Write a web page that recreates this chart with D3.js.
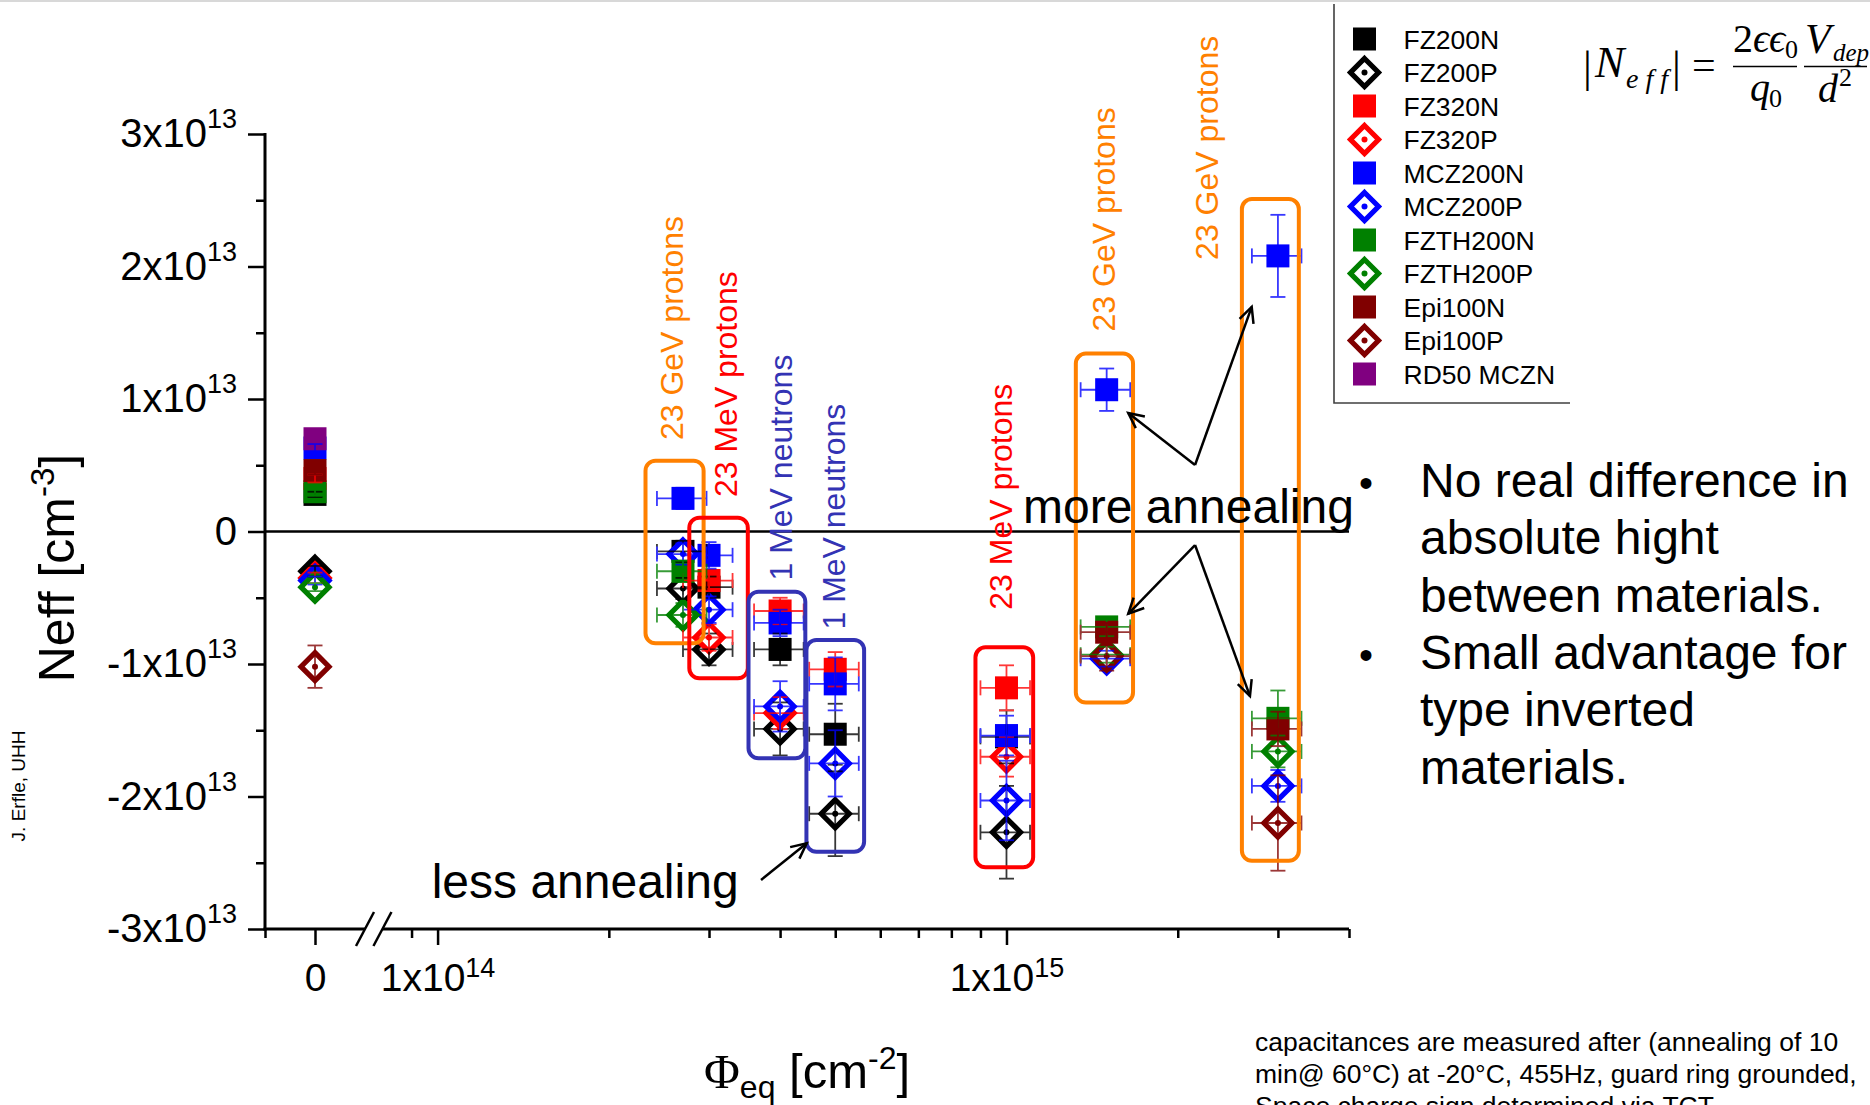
<!DOCTYPE html>
<html>
<head>
<meta charset="utf-8">
<title>Neff vs fluence</title>
<script src="https://cdn.jsdelivr.net/npm/d3@7/dist/d3.min.js"></script>
<style>
  html, body { margin: 0; padding: 0; background: #ffffff; }
  svg { display: block; }
  text { font-family: "Liberation Sans", Arial, Helvetica, sans-serif; }
</style>
</head>
<body>
<svg id="chart" width="1870" height="1105"></svg>
<script>
// ---------------- data ----------------
// equivalent fluence steps [cm^-2]; 0 = unirradiated reference
const fluence    = [0, 2.7e14, 3e14, 4e14, 5e14, 1e15, 1.5e15, 3e15];
const fluenceErr = [0, 2.7e13, 3e13, 4e13, 5e13, 1e14, 1.5e14, 3e14];

// Neff in units of 1e13 cm^-3, one entry per fluence step (null = not measured)
const neffFZ200N   = [0.28, -0.15, -0.42, -0.89, -1.53, -1.55, null, null];
const errFZ200N    = [0.02, 0.08, 0.08, 0.12, 0.23, 0.20, null, null];
const neffFZ200P   = [-0.30, -0.43, -0.89, -1.49, -2.13, -2.27, null, null];
const errFZ200P    = [0.04, 0.08, 0.12, 0.20, 0.32, 0.35, null, null];
const neffFZ320N   = [0.40, null, -0.37, -0.60, -1.04, -1.18, null, null];
const errFZ320N    = [0.03, null, 0.08, 0.10, 0.13, 0.17, null, null];
const neffFZ320P   = [-0.35, null, -0.80, -1.37, null, -1.70, null, null];
const errFZ320P    = [0.04, null, 0.10, 0.12, null, 0.15, null, null];
const neffMCZ200N  = [0.63, 0.25, -0.18, -0.69, -1.15, -1.54, 1.07, 2.08];
const errMCZ200N   = [0.03, 0.08, 0.10, 0.10, 0.20, 0.15, 0.16, 0.31];
const neffMCZ200P  = [-0.37, -0.17, -0.59, -1.32, -1.75, -2.03, -0.96, -1.92];
const errMCZ200P   = [0.03, 0.08, 0.10, 0.19, 0.25, 0.30, 0.06, 0.12];
const neffFZTH200N = [0.30, -0.30, null, null, null, null, -0.72, -1.41];
const errFZTH200N  = [0.03, 0.08, null, null, null, null, 0.07, 0.21];
const neffFZTH200P = [-0.42, -0.63, null, null, null, null, -0.93, -1.66];
const errFZTH200P  = [0.03, 0.09, null, null, null, null, 0.06, 0.12];
const neffEpi100N  = [0.46, null, null, null, null, null, -0.76, -1.49];
const errEpi100N   = [0.03, null, null, null, null, null, 0.07, 0.13];
const neffEpi100P  = [-1.02, null, null, null, null, null, -0.94, -2.20];
const errEpi100P   = [0.16, null, null, null, null, null, 0.11, 0.36];
const neffRD50     = [0.70, null, null, null, null, null, null, null];
const errRD50      = [0.02, null, null, null, null, null, null, null];

const seriesNames = ["FZ200N", "FZ200P", "FZ320N", "FZ320P", "MCZ200N", "MCZ200P",
                     "FZTH200N", "FZTH200P", "Epi100N", "Epi100P", "RD50 MCZN"];

// axis ticks
const yTicks      = [-3e13, -2e13, -1e13, 0, 1e13, 2e13, 3e13];
const yMinorTicks = [-2.5e13, -1.5e13, -0.5e13, 0.5e13, 1.5e13, 2.5e13];
const xMajorTicks = [1e14, 1e15];
const xMinorTicks = [9e13, 2e14, 3e14, 4e14, 5e14, 6e14, 7e14, 8e14, 9e14, 2e15, 3e15, 4e15];

// irradiation groups: frame [fluence from, fluence to, Neff top, Neff bottom] and label
const groupFrames = [
  [2.32e14, 2.935e14, 0.534, -0.844],
  [2.77e14, 3.51e14, 0.104, -1.108],
  [3.52e14, 4.43e14, -0.454, -1.712],
  [4.45e14, 5.62e14, -0.819, -2.417],
  [8.82e14, 1.114e15, -0.874, -2.534],
  [1.324e15, 1.669e15, 1.343, -1.291],
  [2.593e15, 3.265e15, 2.509, -2.485]
];
const groupLabels  = ["23 GeV protons", "23 MeV protons", "1 MeV neutrons", "1 MeV neutrons",
                      "23 MeV protons", "23 GeV protons", "23 GeV protons"];
const groupLabelAt = [[2.70e14, 0.69], [3.36e14, 0.26], [4.20e14, -0.37], [5.20e14, -0.74],
                      [1.022e15, -0.59], [1.55e15, 1.51], [2.35e15, 2.05]];

// ---------------- styles ----------------
const seriesColors = ["#000000", "#000000", "#ff0000", "#ff0000", "#0000ff", "#0000ff",
                      "#008000", "#008000", "#800000", "#800000", "#800080"];
const seriesShapes = ["square", "diamond", "square", "diamond", "square", "diamond",
                      "square", "diamond", "square", "diamond", "square"];
const ORANGE = "#ff8000", RED = "#ff0000", NAVY = "#3333b4";
const groupColors = [ORANGE, RED, NAVY, NAVY, RED, ORANGE, ORANGE];

const series = [
  [neffFZ200N, errFZ200N], [neffFZ200P, errFZ200P], [neffFZ320N, errFZ320N], [neffFZ320P, errFZ320P],
  [neffMCZ200N, errMCZ200N], [neffMCZ200P, errMCZ200P], [neffFZTH200N, errFZTH200N],
  [neffFZTH200P, errFZTH200P], [neffEpi100N, errEpi100N], [neffEpi100P, errEpi100P], [neffRD50, errRD50]
].map((p, k) => ({ name: seriesNames[k], values: p[0], errs: p[1],
                   color: seriesColors[k], shape: seriesShapes[k] }));

// ---------------- scales ----------------
const svg = d3.select("#chart");
const yScale = d3.scaleLinear().domain([-3e13, 3e13]).range([929, 134]);
const xLin   = d3.scaleLinear().domain([-1, 1]).range([265, 365]);      // unirradiated segment
const xLog   = d3.scaleLog().domain([7.7e13, 4e15]).range([373, 1349]); // irradiated segment
const xPos = f => (f === 0 ? xLin(0) : xLog(f));
const yPos = v => yScale(v * 1e13);

const SQ = 23;      // square marker side
const DH = 14;      // diamond half diagonal

function drawMarker(g, shape, color, cx, cy) {
  if (shape === "square") {
    g.append("rect").attr("x", cx - SQ / 2).attr("y", cy - SQ / 2)
      .attr("width", SQ).attr("height", SQ).attr("fill", color);
  } else {
    g.append("path")
      .attr("d", `M${cx},${cy - DH}L${cx + DH},${cy}L${cx},${cy + DH}L${cx - DH},${cy}Z`)
      .attr("fill", "#fff").attr("stroke", color).attr("stroke-width", 5.2)
      .attr("stroke-linejoin", "miter");
    g.append("circle").attr("cx", cx).attr("cy", cy).attr("r", 3).attr("fill", color);
  }
}

function sciLabel(t, v, raise, supSize) {
  t.text(null);
  if (v === 0) { t.text("0"); return; }
  const e = Math.floor(Math.log10(Math.abs(v)) + 1e-9);
  const m = Math.round(v / Math.pow(10, e));
  t.append("tspan").text(m + "x10");
  t.append("tspan").attr("dy", -raise).attr("font-size", supSize).text(e);
}

// top edge line of the slide frame
svg.append("line").attr("x1", 0).attr("x2", 1870).attr("y1", 1).attr("y2", 1)
  .attr("stroke", "#d8d8d8").attr("stroke-width", 2);

// ---------------- axes ----------------
const axes = svg.append("g");
function styleAxis(g) {
  g.attr("font-size", null).attr("font-family", null);
  g.select(".domain").remove();
  g.selectAll(".tick line").attr("stroke", "#000").attr("stroke-width", 2.5);
  g.selectAll(".tick text").attr("fill", "#000");
}

// y axis
const gy = axes.append("g").attr("transform", "translate(265,0)")
  .call(d3.axisLeft(yScale).tickValues(yTicks).tickSize(17).tickPadding(11));
styleAxis(gy);
gy.selectAll(".tick text").attr("font-size", 40).each(function (d) { sciLabel(d3.select(this), d, 19, 27); });
const gyMinor = axes.append("g").attr("transform", "translate(265,0)")
  .call(d3.axisLeft(yScale).tickValues(yMinorTicks).tickSize(9).tickFormat(() => ""));
styleAxis(gyMinor);

// x axis, irradiated (log) segment
const gx = axes.append("g").attr("transform", "translate(0,929)")
  .call(d3.axisBottom(xLog).tickValues(xMajorTicks).tickSize(16).tickPadding(18));
styleAxis(gx);
gx.selectAll(".tick text").attr("font-size", 39).each(function (d) { sciLabel(d3.select(this), d, 14, 27); });
const gxMinor = axes.append("g").attr("transform", "translate(0,929)")
  .call(d3.axisBottom(xLog).tickValues(xMinorTicks).tickSize(9).tickFormat(() => ""));
styleAxis(gxMinor);

// x axis, unirradiated segment
const gx0 = axes.append("g").attr("transform", "translate(0,929)")
  .call(d3.axisBottom(xLin).tickValues([0]).tickSize(16).tickPadding(18).tickFormat(d3.format("d")));
styleAxis(gx0);
gx0.selectAll(".tick text").attr("font-size", 39);
const gx0Minor = axes.append("g").attr("transform", "translate(0,929)")
  .call(d3.axisBottom(xLin).tickValues([-1]).tickSize(9).tickFormat(() => ""));
styleAxis(gx0Minor);

// axis lines with the scale break
const yBase = yScale(-3e13);
axes.append("line").attr("x1", xLin(-1)).attr("x2", xLin(-1))
  .attr("y1", yScale(3e13) - 1).attr("y2", yBase + 1.5)
  .attr("stroke", "#000").attr("stroke-width", 3);
axes.append("line").attr("x1", xLin(-1) - 1.5).attr("x2", xLin(1)).attr("y1", yBase).attr("y2", yBase)
  .attr("stroke", "#000").attr("stroke-width", 3);
axes.append("line").attr("x1", xLog(8e13)).attr("x2", xLog(4e15)).attr("y1", yBase).attr("y2", yBase)
  .attr("stroke", "#000").attr("stroke-width", 3);
[xLin(1), xLog(8e13)].forEach(bx => {
  axes.append("line").attr("x1", bx - 9).attr("y1", yBase + 17).attr("x2", bx + 9).attr("y2", yBase - 17)
    .attr("stroke", "#000").attr("stroke-width", 2.5);
});

// axis titles
const yTitle = svg.append("text").attr("transform", "translate(74,568) rotate(-90)")
  .attr("text-anchor", "middle").attr("font-size", 50).attr("fill", "#000");
yTitle.append("tspan").text("Neff [cm");
yTitle.append("tspan").attr("dy", -20).attr("font-size", 33).text("-3");
yTitle.append("tspan").attr("dy", 20).text("]");

const xTitle = svg.append("text").attr("x", 704).attr("y", 1088).attr("font-size", 49).attr("fill", "#000");
xTitle.append("tspan").attr("font-family", "'Liberation Serif', 'Times New Roman', serif").text("Φ");
xTitle.append("tspan").attr("dy", 10).attr("font-size", 32).text("eq");
xTitle.append("tspan").attr("dy", -10).text(" [cm");
xTitle.append("tspan").attr("dy", -19).attr("font-size", 32).text("-2");
xTitle.append("tspan").attr("dy", 19).text("]");

svg.append("text").attr("transform", "translate(25,786) rotate(-90)")
  .attr("text-anchor", "middle").attr("font-size", 19).attr("fill", "#000").text("J. Erfle, UHH");

// zero line
svg.append("line").attr("x1", xLin(-1)).attr("x2", xLog(4e15))
  .attr("y1", yScale(0)).attr("y2", yScale(0)).attr("stroke", "#000").attr("stroke-width", 2.5);

// ---------------- markers ----------------
const gMarks = svg.append("g");
series.forEach(s => {
  s.values.forEach((v, i) => {
    if (v == null) return;
    drawMarker(gMarks, s.shape, s.color, xPos(fluence[i]), yPos(v));
  });
});

// error bars (on top of the markers)
const gErr = svg.append("g").attr("stroke-width", 1.8).attr("opacity", 0.78);
const CAP = 7.5;
series.forEach(s => {
  s.values.forEach((v, i) => {
    if (v == null) return;
    const cx = xPos(fluence[i]), cy = yPos(v);
    const e = s.errs[i] || 0;
    const yT = yPos(v + e), yB = yPos(v - e);
    gErr.append("line").attr("x1", cx).attr("x2", cx).attr("y1", yT).attr("y2", yB).attr("stroke", s.color);
    [yT, yB].forEach(yy => gErr.append("line").attr("x1", cx - CAP).attr("x2", cx + CAP)
      .attr("y1", yy).attr("y2", yy).attr("stroke", s.color));
    if (fluenceErr[i] > 0) {
      const xL = xLog(fluence[i] - fluenceErr[i]), xR = xLog(fluence[i] + fluenceErr[i]);
      gErr.append("line").attr("x1", xL).attr("x2", xR).attr("y1", cy).attr("y2", cy).attr("stroke", s.color);
      [xL, xR].forEach(xx => gErr.append("line").attr("x1", xx).attr("x2", xx)
        .attr("y1", cy - CAP).attr("y2", cy + CAP).attr("stroke", s.color));
    }
  });
});

// ---------------- irradiation groups ----------------
groupFrames.forEach((b, k) => {
  svg.append("rect")
    .attr("x", xLog(b[0])).attr("y", yPos(b[2]))
    .attr("width", xLog(b[1]) - xLog(b[0])).attr("height", yPos(b[3]) - yPos(b[2]))
    .attr("rx", 10).attr("ry", 10)
    .attr("fill", "none").attr("stroke", groupColors[k]).attr("stroke-width", 4);
});
groupLabels.forEach((t, k) => {
  const at = groupLabelAt[k];
  svg.append("text").attr("transform", `translate(${xLog(at[0])},${yPos(at[1])}) rotate(-90)`)
    .attr("font-size", 32).attr("fill", groupColors[k]).text(t);
});

// ---------------- annotations ----------------
const arrows = [
  [[2.145e15, 0.502], [1.637e15, 0.895]],
  [[2.145e15, 0.502], [2.698e15, 1.695]],
  [[2.145e15, -0.102], [1.637e15, -0.621]],
  [[2.145e15, -0.102], [2.679e15, -1.242]],
  [[3.703e14, -2.630], [4.455e14, -2.353]]
];
const gArr = svg.append("g").attr("stroke", "#000").attr("stroke-width", 2.5).attr("fill", "none");
arrows.forEach(a => {
  const x0 = xLog(a[0][0]), y0 = yPos(a[0][1]), x1 = xLog(a[1][0]), y1 = yPos(a[1][1]);
  gArr.append("line").attr("x1", x0).attr("y1", y0).attr("x2", x1).attr("y2", y1);
  const ang = Math.atan2(y0 - y1, x0 - x1), L = 17, spread = 0.45;
  gArr.append("path").attr("d",
    `M${x1 + L * Math.cos(ang - spread)},${y1 + L * Math.sin(ang - spread)}L${x1},${y1}` +
    `L${x1 + L * Math.cos(ang + spread)},${y1 + L * Math.sin(ang + spread)}`);
});
svg.append("text").attr("x", xLog(1.069e15)).attr("y", yPos(0.064))
  .attr("font-size", 48).attr("fill", "#000").text("more annealing");
svg.append("text").attr("x", xLog(9.765e13)).attr("y", yPos(-2.766))
  .attr("font-size", 48).attr("fill", "#000").text("less annealing");

// ---------------- legend ----------------
const leg = svg.append("g");
leg.append("path").attr("d", "M1334,4V403H1570").attr("fill", "none")
  .attr("stroke", "#404040").attr("stroke-width", 1.6);
series.forEach((s, k) => {
  const cy = 39 + k * 33.5;
  drawMarker(leg, s.shape, s.color, 1364.5, cy);
  leg.append("text").attr("x", 1403.5).attr("y", cy + 9.5).attr("font-size", 26.5)
    .attr("fill", "#000").text(s.name);
});

// ---------------- depletion formula ----------------
const F = svg.append("g").attr("fill", "#000")
  .style("font-family", "'Liberation Serif', 'Times New Roman', serif");
const ft = (x, y, s, t, it) => F.append("text").attr("x", x).attr("y", y).attr("font-size", s)
  .attr("font-style", it ? "italic" : "normal").style("font-family", "inherit").text(t);
ft(1583, 82, 44, "|", false);
ft(1595, 77, 44, "N", true);
ft(1626, 88, 28, "e f f", true);
ft(1672, 82, 44, "|", false);
ft(1692, 79, 42, "=", false);
ft(1733, 52, 40, "2", false);
ft(1753, 52, 40, "ϵϵ", true);
ft(1785, 58, 26, "0", false);
F.append("line").attr("x1", 1733).attr("x2", 1797).attr("y1", 66.5).attr("y2", 66.5)
  .attr("stroke", "#000").attr("stroke-width", 1.6);
ft(1750, 101, 40, "q", true);
ft(1769, 107, 26, "0", false);
ft(1805, 53, 42, "V", true);
ft(1833, 61, 25, "dep", true);
F.append("line").attr("x1", 1804).attr("x2", 1867).attr("y1", 66.5).attr("y2", 66.5)
  .attr("stroke", "#000").attr("stroke-width", 1.6);
ft(1818, 102, 40, "d", true);
ft(1839, 86, 26, "2", false);

// ---------------- bullet text ----------------
const bulletLines = [
  ["•", "No real difference in"], ["", "absolute hight"], ["", "between materials."],
  ["•", "Small advantage for"], ["", "type inverted"], ["", "materials."]
];
bulletLines.forEach((l, k) => {
  const y = 497 + k * 57.3;
  if (l[0]) svg.append("text").attr("x", 1359).attr("y", y).attr("font-size", 40).attr("fill", "#000").text(l[0]);
  svg.append("text").attr("x", 1420).attr("y", y).attr("font-size", 48).attr("fill", "#000").text(l[1]);
});

// ---------------- measurement note ----------------
const note = svg.append("g").attr("transform", "translate(1255,0) scale(1.06,1)");
["capacitances are measured after (annealing of 10",
 "min@ 60°C) at -20°C, 455Hz, guard ring grounded,",
 "Space charge sign determined via TCT"].forEach((t, k) => {
  note.append("text").attr("x", 0).attr("y", 1051 + k * 32).attr("font-size", 25)
    .attr("fill", "#000").text(t);
});
</script>
</body>
</html>
